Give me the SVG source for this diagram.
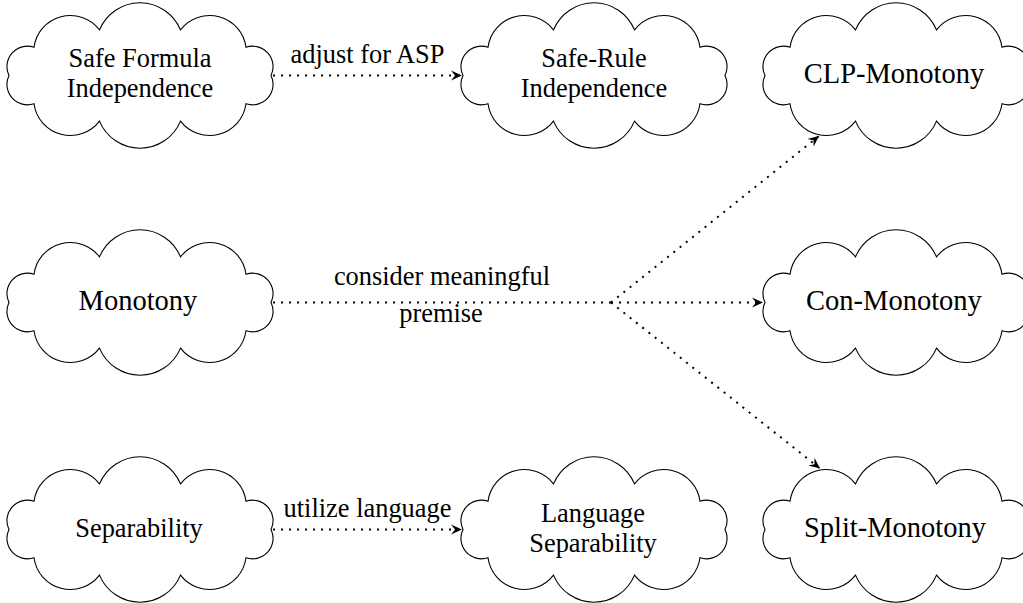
<svg xmlns="http://www.w3.org/2000/svg" width="1023" height="603" viewBox="0 0 1023 603">
<style>
  .cloud { fill: #ffffff; stroke: #000000; stroke-width: 1.1; }
  .t { font-family: "Liberation Serif", "DejaVu Serif", serif; font-size: 26.4px; fill: #000000; text-anchor: middle; }
  .big { font-size: 28.5px; }
  .edge { fill: none; stroke: #000000; stroke-width: 2; stroke-dasharray: 2 6; }
</style>
<defs>
  <path id="cloudShape" d="M131,0 A20.4,20.4 0 0 1 106,28.2 A36.7,36.7 0 0 1 40.5,45.6 A43.8,43.8 0 0 1 -40.5,45.6 A36.7,36.7 0 0 1 -106,28.2 A20.4,20.4 0 0 1 -131,0 A20.4,20.4 0 0 1 -106,-28.2 A36.7,36.7 0 0 1 -40.5,-45.6 A43.8,43.8 0 0 1 40.5,-45.6 A36.7,36.7 0 0 1 106,-28.2 A20.4,20.4 0 0 1 131,0 Z"/>
  <marker id="arrow" markerUnits="userSpaceOnUse" markerWidth="14" markerHeight="12" viewBox="-12 -6 14 12" refX="0" refY="0" orient="auto">
    <path d="M0,0 L-11,-5 L-7,0 L-11,5 Z" fill="#000000" stroke="none"/>
  </marker>
</defs>

<g id="connectors">
  <path class="edge" d="M273,75.5 H462" marker-end="url(#arrow)"/>
  <path class="edge" d="M273,302.5 H611"/>
  <path class="edge" d="M611,302.5 H763" marker-end="url(#arrow)"/>
  <path class="edge" d="M611,302.5 L819,136" marker-end="url(#arrow)"/>
  <path class="edge" d="M611,302.5 L820,468.5" marker-end="url(#arrow)"/>
  <path class="edge" d="M273,529.5 H462" marker-end="url(#arrow)"/>
  <text class="t" x="367.5" y="63.3" font-family="Liberation Serif, serif">adjust for ASP</text>
  <text class="t" x="442" y="285" font-family="Liberation Serif, serif">consider meaningful</text>
  <text class="t" x="441" y="321.7" font-family="Liberation Serif, serif">premise</text>
  <text class="t" x="367.5" y="517.3" font-family="Liberation Serif, serif">utilize language</text>
</g>

<g id="safe-formula-independence">
  <use href="#cloudShape" class="cloud" transform="translate(140,75.5)"/>
  <text class="t" x="140" y="67.2">Safe Formula</text>
  <text class="t" x="140" y="97.2">Independence</text>
</g>
<g id="safe-rule-independence">
  <use href="#cloudShape" class="cloud" transform="translate(594,75.5)"/>
  <text class="t" x="594" y="67.2">Safe-Rule</text>
  <text class="t" x="594" y="97.2">Independence</text>
</g>
<g id="clp-monotony">
  <use href="#cloudShape" class="cloud" transform="translate(896,75.5)"/>
  <text class="t big" x="894" y="83">CLP-Monotony</text>
</g>
<g id="monotony">
  <use href="#cloudShape" class="cloud" transform="translate(140,302.5)"/>
  <text class="t big" x="138" y="309.5">Monotony</text>
</g>
<g id="con-monotony">
  <use href="#cloudShape" class="cloud" transform="translate(896,302.5)"/>
  <text class="t big" x="894" y="310">Con-Monotony</text>
</g>
<g id="separability">
  <use href="#cloudShape" class="cloud" transform="translate(140,529.5)"/>
  <text class="t" x="139" y="536.7">Separability</text>
</g>
<g id="language-separability">
  <use href="#cloudShape" class="cloud" transform="translate(594,529.5)"/>
  <text class="t" x="593" y="521.5">Language</text>
  <text class="t" x="593" y="551.5">Separability</text>
</g>
<g id="split-monotony">
  <use href="#cloudShape" class="cloud" transform="translate(896,529.5)"/>
  <text class="t big" x="895" y="536.7">Split-Monotony</text>
</g>
</svg>
